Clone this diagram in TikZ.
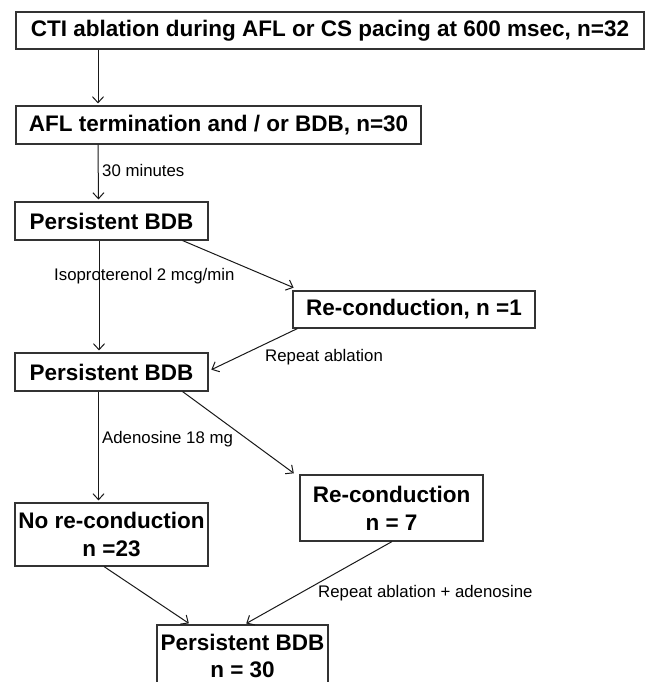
\documentclass[tikz,border=0pt]{standalone}
\usepackage{fontspec}
\setmainfont{Liberation Sans}
\usetikzlibrary{arrows.meta}
\begin{document}
\begin{tikzpicture}[x=1pt,y=-1pt,
  box/.style={draw=black!80,line width=1.1pt,inner sep=0pt,align=center,font=\fontsize{22.5}{28}\selectfont\bfseries},
  conn/.style={draw=black!90,line width=1pt,shorten >=2pt,-{Straight Barb[length=6pt,width=11pt,line width=1pt]}},
  lbl/.style={inner sep=0pt,anchor=west,font=\fontsize{16.8}{20}\selectfont}]
\useasboundingbox[fill=white] (0,0) rectangle (650,682);
\begin{scope}
\clip (0,0) rectangle (650,682);
\node[box,minimum width=628pt,minimum height=37pt] (b1) at (330,30.5) {CTI ablation during AFL or CS pacing at 600 msec, n=32};
\node[box,minimum width=405pt,minimum height=38pt] (b2) at (218.5,125) {AFL termination and / or BDB, n=30};
\node[box,minimum width=193pt,minimum height=38pt] (b3) at (111.5,221) {Persistent BDB};
\node[box,minimum width=242pt,minimum height=37pt] (r1) at (414,309.5) {Re-conduction, n =1};
\node[box,minimum width=193pt,minimum height=38pt] (b4) at (111.5,372) {Persistent BDB};
\node[box,minimum width=193pt,minimum height=63pt] (nr) at (111.5,534.5) {No re-conduction\\n =23};
\node[box,minimum width=183pt,minimum height=66pt] (r7) at (391.5,508) {Re-conduction\\n = 7};
\node[box,minimum width=171pt,minimum height=62pt] (fin) at (242.5,656) {Persistent BDB\\[-1pt]n = 30};
\end{scope}
% connectors
\draw[conn] ([xshift=-232pt]b1.south) -- ([xshift=-120.5pt]b2.north);
\draw[conn] ([xshift=-120.5pt]b2.south) -- ([xshift=-13pt]b3.north);
\draw[conn] ([xshift=-26pt]b3.south east) -- ([xshift=3pt,yshift=2pt]r1.north west);
\draw[conn] ([xshift=-12.5pt]b3.south) -- ([xshift=-12.5pt]b4.north);
\draw[conn] ([xshift=5pt]r1.south west) -- ([xshift=1pt,yshift=21pt]b4.south east);
\draw[conn] ([xshift=-13pt]b4.south) -- ([xshift=-13pt]nr.north);
\draw[conn] ([xshift=-26pt]b4.south east) -- ([xshift=-4pt]r7.north west);
\draw[conn] ([xshift=-7.5pt]nr.south) -- ([xshift=-52pt]fin.north);
\draw[conn] ([xshift=0.5pt]r7.south) -- ([xshift=2pt]fin.north);
% labels
\node[lbl] (l1) at (102,170) {30 minutes};
\node[lbl] (l2) at (54,276) {Isoproterenol 2 mcg/min};
\node[lbl] (l3) at (265,357) {Repeat ablation};
\node[lbl] (l4) at (102,439) {Adenosine 18 mg};
\node[lbl] (l5) at (318,593) {Repeat ablation + adenosine};
\end{tikzpicture}
\end{document}
